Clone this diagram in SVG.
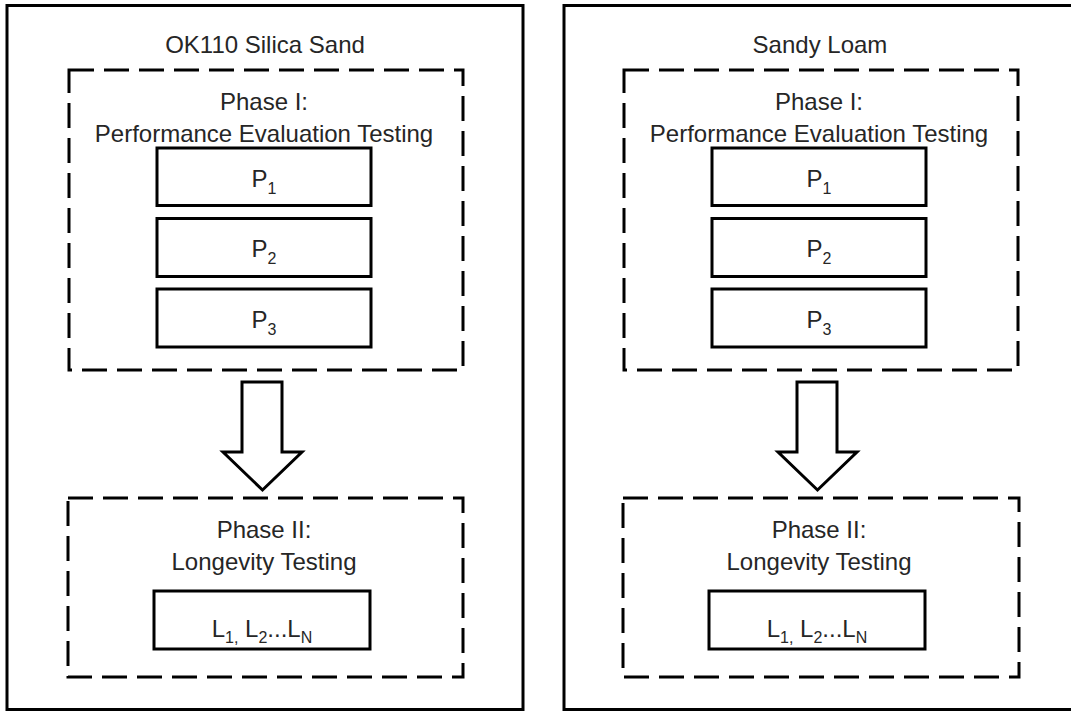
<svg xmlns="http://www.w3.org/2000/svg" width="1071" height="711" viewBox="0 0 1071 711">
  <style>
    .frame { fill: #ffffff; stroke: #000000; stroke-width: 3; }
    .phase { fill: none; stroke: #000000; stroke-width: 3; stroke-dasharray: 25 10; }
    .box { fill: #ffffff; stroke: #000000; stroke-width: 3; }
    .arrow { fill: #ffffff; stroke: #000000; stroke-width: 3; stroke-linejoin: miter; }
    text { font-family: "Liberation Sans", Arial, sans-serif; font-size: 24px; fill: #262626; text-anchor: middle; }
    .sub { font-size: 16px; }
  </style>
  <rect width="1071" height="711" fill="#ffffff"/>

  <!-- Left column: OK110 Silica Sand -->
  <g id="panel-silica">
    <rect class="frame" x="7" y="5.5" width="516" height="704"/>
    <text x="265" y="53">OK110 Silica Sand</text>
  </g>
  <g id="silica-phase1">
    <rect class="phase" x="69" y="70" width="394" height="300"/>
    <text x="264" y="110">Phase I:</text>
    <text x="264" y="142">Performance Evaluation Testing</text>
  </g>
  <g id="silica-p1">
    <rect class="box" x="157" y="148" width="214" height="57.5"/>
    <text x="264" y="187">P<tspan class="sub" dy="7">1</tspan></text>
  </g>
  <g id="silica-p2">
    <rect class="box" x="157" y="218.5" width="214" height="58"/>
    <text x="264" y="257">P<tspan class="sub" dy="7">2</tspan></text>
  </g>
  <g id="silica-p3">
    <rect class="box" x="157" y="289" width="214" height="58"/>
    <text x="264" y="328">P<tspan class="sub" dy="7">3</tspan></text>
  </g>
  <g id="silica-phase2">
    <rect class="phase" x="68" y="498" width="395" height="179"/>
    <text x="264" y="538">Phase II:</text>
    <text x="264" y="570">Longevity Testing</text>
  </g>
  <g id="silica-longevity">
    <rect class="box" x="154" y="591" width="216" height="58"/>
    <text x="262" y="637">L<tspan class="sub" dy="6">1,</tspan><tspan dy="-6"> L</tspan><tspan class="sub" dy="6">2</tspan><tspan dy="-6">...L</tspan><tspan class="sub" dy="6">N</tspan></text>
  </g>

  <!-- Right column: Sandy Loam -->
  <g id="panel-loam">
    <rect class="frame" x="564" y="5.5" width="520" height="704"/>
    <text x="820" y="53">Sandy Loam</text>
  </g>
  <g id="loam-phase1">
    <rect class="phase" x="624" y="70" width="394" height="300"/>
    <text x="819" y="110">Phase I:</text>
    <text x="819" y="142">Performance Evaluation Testing</text>
  </g>
  <g id="loam-p1">
    <rect class="box" x="712" y="148" width="214" height="57.5"/>
    <text x="819" y="187">P<tspan class="sub" dy="7">1</tspan></text>
  </g>
  <g id="loam-p2">
    <rect class="box" x="712" y="218.5" width="214" height="58"/>
    <text x="819" y="257">P<tspan class="sub" dy="7">2</tspan></text>
  </g>
  <g id="loam-p3">
    <rect class="box" x="712" y="289" width="214" height="58"/>
    <text x="819" y="328">P<tspan class="sub" dy="7">3</tspan></text>
  </g>
  <g id="loam-phase2">
    <rect class="phase" x="623" y="498" width="396" height="179"/>
    <text x="819" y="538">Phase II:</text>
    <text x="819" y="570">Longevity Testing</text>
  </g>
  <g id="loam-longevity">
    <rect class="box" x="709" y="591" width="216" height="58"/>
    <text x="817" y="637">L<tspan class="sub" dy="6">1,</tspan><tspan dy="-6"> L</tspan><tspan class="sub" dy="6">2</tspan><tspan dy="-6">...L</tspan><tspan class="sub" dy="6">N</tspan></text>
  </g>

  <!-- Block arrows from Phase I to Phase II -->
  <g id="connectors">
    <polygon class="arrow" points="242,382 282,382 282,452 302,452 262.5,490 223,452 242,452"/>
    <polygon class="arrow" points="797,382 837,382 837,452 857,452 817.5,490 778,452 797,452"/>
  </g>
</svg>
